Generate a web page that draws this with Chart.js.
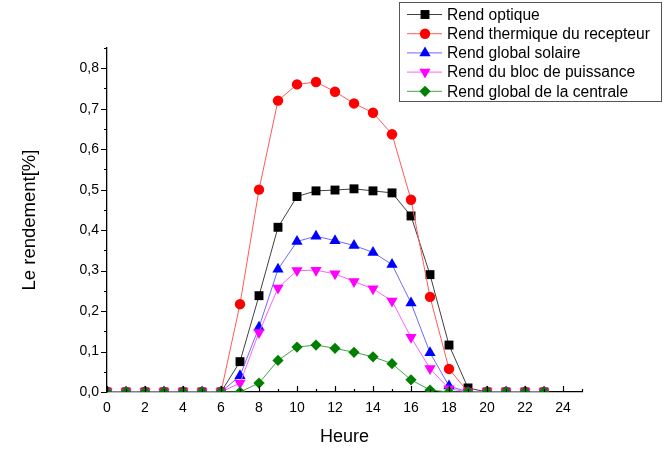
<!DOCTYPE html>
<html>
<head>
<meta charset="utf-8">
<script src="https://cdn.jsdelivr.net/npm/chart.js@4/dist/chart.umd.min.js"></script>
<style>
  body { margin: 0; background: #fff; }
  canvas { display: block; }
</style>
</head>
<body>
<canvas id="myChart" width="671" height="449"></canvas>
<script>
// heures 0..23
var heures = [0,1,2,3,4,5,6,7,8,9,10,11,12,13,14,15,16,17,18,19,20,21,22,23];

var rendOptique  = [0,0,0,0,0,0,0,0.075,0.238,0.407,0.483,0.497,0.499,0.502,0.497,0.492,0.435,0.290,0.116,0.010,0,0,0,0];
var rendThermique = [0,0,0,0,0,0,0,0.217,0.500,0.720,0.760,0.766,0.742,0.713,0.690,0.637,0.475,0.235,0.057,0,0,0,0,0];
var rendSolaire  = [0,0,0,0,0,0,0,0.040,0.160,0.303,0.372,0.385,0.374,0.362,0.345,0.315,0.220,0.097,0.015,0,0,0,0,0];
var rendBloc     = [0,0,0,0,0,0,0,0.022,0.147,0.257,0.300,0.301,0.292,0.273,0.255,0.225,0.135,0.058,0.008,0,0,0,0,0];
var rendCentrale = [0,0,0,0,0,0,0,0,0.022,0.078,0.111,0.116,0.108,0.098,0.087,0.070,0.030,0.005,0,0,0,0,0,0];

var xTicks = [0,2,4,6,8,10,12,14,16,18,20,22,24];
var yTicks = [0,0.1,0.2,0.3,0.4,0.5,0.6,0.7,0.8];

var FONT = "'Liberation Sans', Arial, sans-serif";

function pts(values) {
  return values.map(function (v, i) { return { x: heures[i], y: v }; });
}

function serie(label, values, line, mark, style, radius, rot, order) {
  return {
    label: label,
    data: pts(values),
    borderColor: line,
    borderWidth: 1,
    pointBackgroundColor: mark,
    pointBorderColor: mark,
    pointBorderWidth: 0,
    pointStyle: style,
    pointRadius: radius,
    pointRotation: rot,
    tension: 0,
    order: order
  };
}

var datasets = [
  serie("Rend optique", rendOptique, "#404040", "#000000", "rect", 6.3, 0, 4),
  serie("Rend thermique du recepteur", rendThermique, "#ff5a5a", "#ff0000", "circle", 5.2, 0, 3),
  serie("Rend global solaire", rendSolaire, "#6a6aff", "#0000ff", "triangle", 6.5, 0, 2),
  serie("Rend du bloc de puissance", rendBloc, "#ff60ff", "#ff00ff", "triangle", 6.5, 180, 1),
  serie("Rend global de la centrale", rendCentrale, "#4aa04a", "#008000", "rectRot", 5.6, 0, 0)
];

function drawMarker(ctx, ds, x, y) {
  Chart.helpers.drawPoint(ctx, {
    pointStyle: ds.pointStyle,
    rotation: ds.pointRotation,
    radius: ds.pointRadius,
    borderWidth: 0
  }, x, y);
}

// ticks (x vers l'intérieur, y vers l'extérieur) + légende encadrée
var deco = {
  id: 'deco',
  afterDraw: function (chart) {
    var ctx = chart.ctx;
    var xs = chart.scales.x, ys = chart.scales.y;
    var area = chart.chartArea;
    ctx.save();
    ctx.strokeStyle = '#000';
    ctx.lineWidth = 1.2;
    ctx.beginPath();
    for (var h = 0; h <= 25; h++) {
      var px = Math.round(xs.getPixelForValue(h)) + 0.5;
      var len = h % 2 === 0 ? 6 : 3;
      ctx.moveTo(px, area.bottom);
      ctx.lineTo(px, area.bottom - len);
    }
    for (var k = 0; k <= 17; k++) {
      var py = Math.round(ys.getPixelForValue(k * 0.05)) + 0.5;
      var l = k % 2 === 0 ? 6 : 3;
      ctx.moveTo(area.left, py);
      ctx.lineTo(area.left - l, py);
    }
    ctx.stroke();

    // légende
    var bx = 399, by = 2, bw = 262, bh = 99;
    ctx.fillStyle = '#fff';
    ctx.fillRect(bx, by, bw, bh);
    ctx.strokeStyle = '#555';
    ctx.lineWidth = 1;
    ctx.strokeRect(bx + 0.5, by + 0.5, bw, bh);
    ctx.font = '15.6px ' + FONT;
    ctx.textBaseline = 'middle';
    ctx.textAlign = 'left';
    chart.data.datasets.forEach(function (ds, i) {
      var y = 14.5 + i * 19.2;
      ctx.strokeStyle = ds.borderColor;
      ctx.lineWidth = 1;
      ctx.beginPath();
      ctx.moveTo(407, y);
      ctx.lineTo(442, y);
      ctx.stroke();
      ctx.fillStyle = ds.pointBackgroundColor;
      drawMarker(ctx, ds, 425, y);
      ctx.fillStyle = '#000';
      ctx.fillText(ds.label, 447, y + 1);
    });
    ctx.restore();
  }
};

new Chart(document.getElementById('myChart'), {
  type: 'line',
  data: { datasets: datasets },
  options: {
    responsive: false,
    animation: false,
    layout: { padding: { top: 48, right: 89, left: 0, bottom: 0 } },
    plugins: {
      legend: { display: false },
      tooltip: { enabled: false }
    },
    scales: {
      x: {
        type: 'linear',
        min: 0,
        max: 25,
        afterBuildTicks: function (s) { s.ticks = xTicks.map(function (v) { return { value: v }; }); },
        afterFit: function (s) { s.height = 57; },
        grid: { display: false, drawTicks: false },
        border: { display: true, color: '#000', width: 1.3 },
        ticks: {
          padding: 8,
          color: '#000',
          maxRotation: 0,
          font: { family: FONT, size: 14 },
          callback: function (v) { return String(v); }
        },
        title: {
          display: true,
          text: 'Heure',
          color: '#000',
          font: { family: FONT, size: 18 },
          padding: { top: 0, bottom: 1 }
        }
      },
      y: {
        min: 0,
        max: 0.85,
        afterBuildTicks: function (s) { s.ticks = yTicks.map(function (v) { return { value: v }; }); },
        afterFit: function (s) { s.width = 107; },
        grid: { display: false, drawTicks: false },
        border: { display: true, color: '#000', width: 1.3 },
        ticks: {
          padding: 8,
          color: '#000',
          font: { family: FONT, size: 14 },
          callback: function (v) { return v.toFixed(1).replace('.', ','); }
        },
        title: {
          display: true,
          text: 'Le rendement[%]',
          color: '#000',
          font: { family: FONT, size: 18.5 },
          padding: { top: 19, bottom: 0 }
        }
      }
    }
  },
  plugins: [deco]
});
</script>
</body>
</html>
